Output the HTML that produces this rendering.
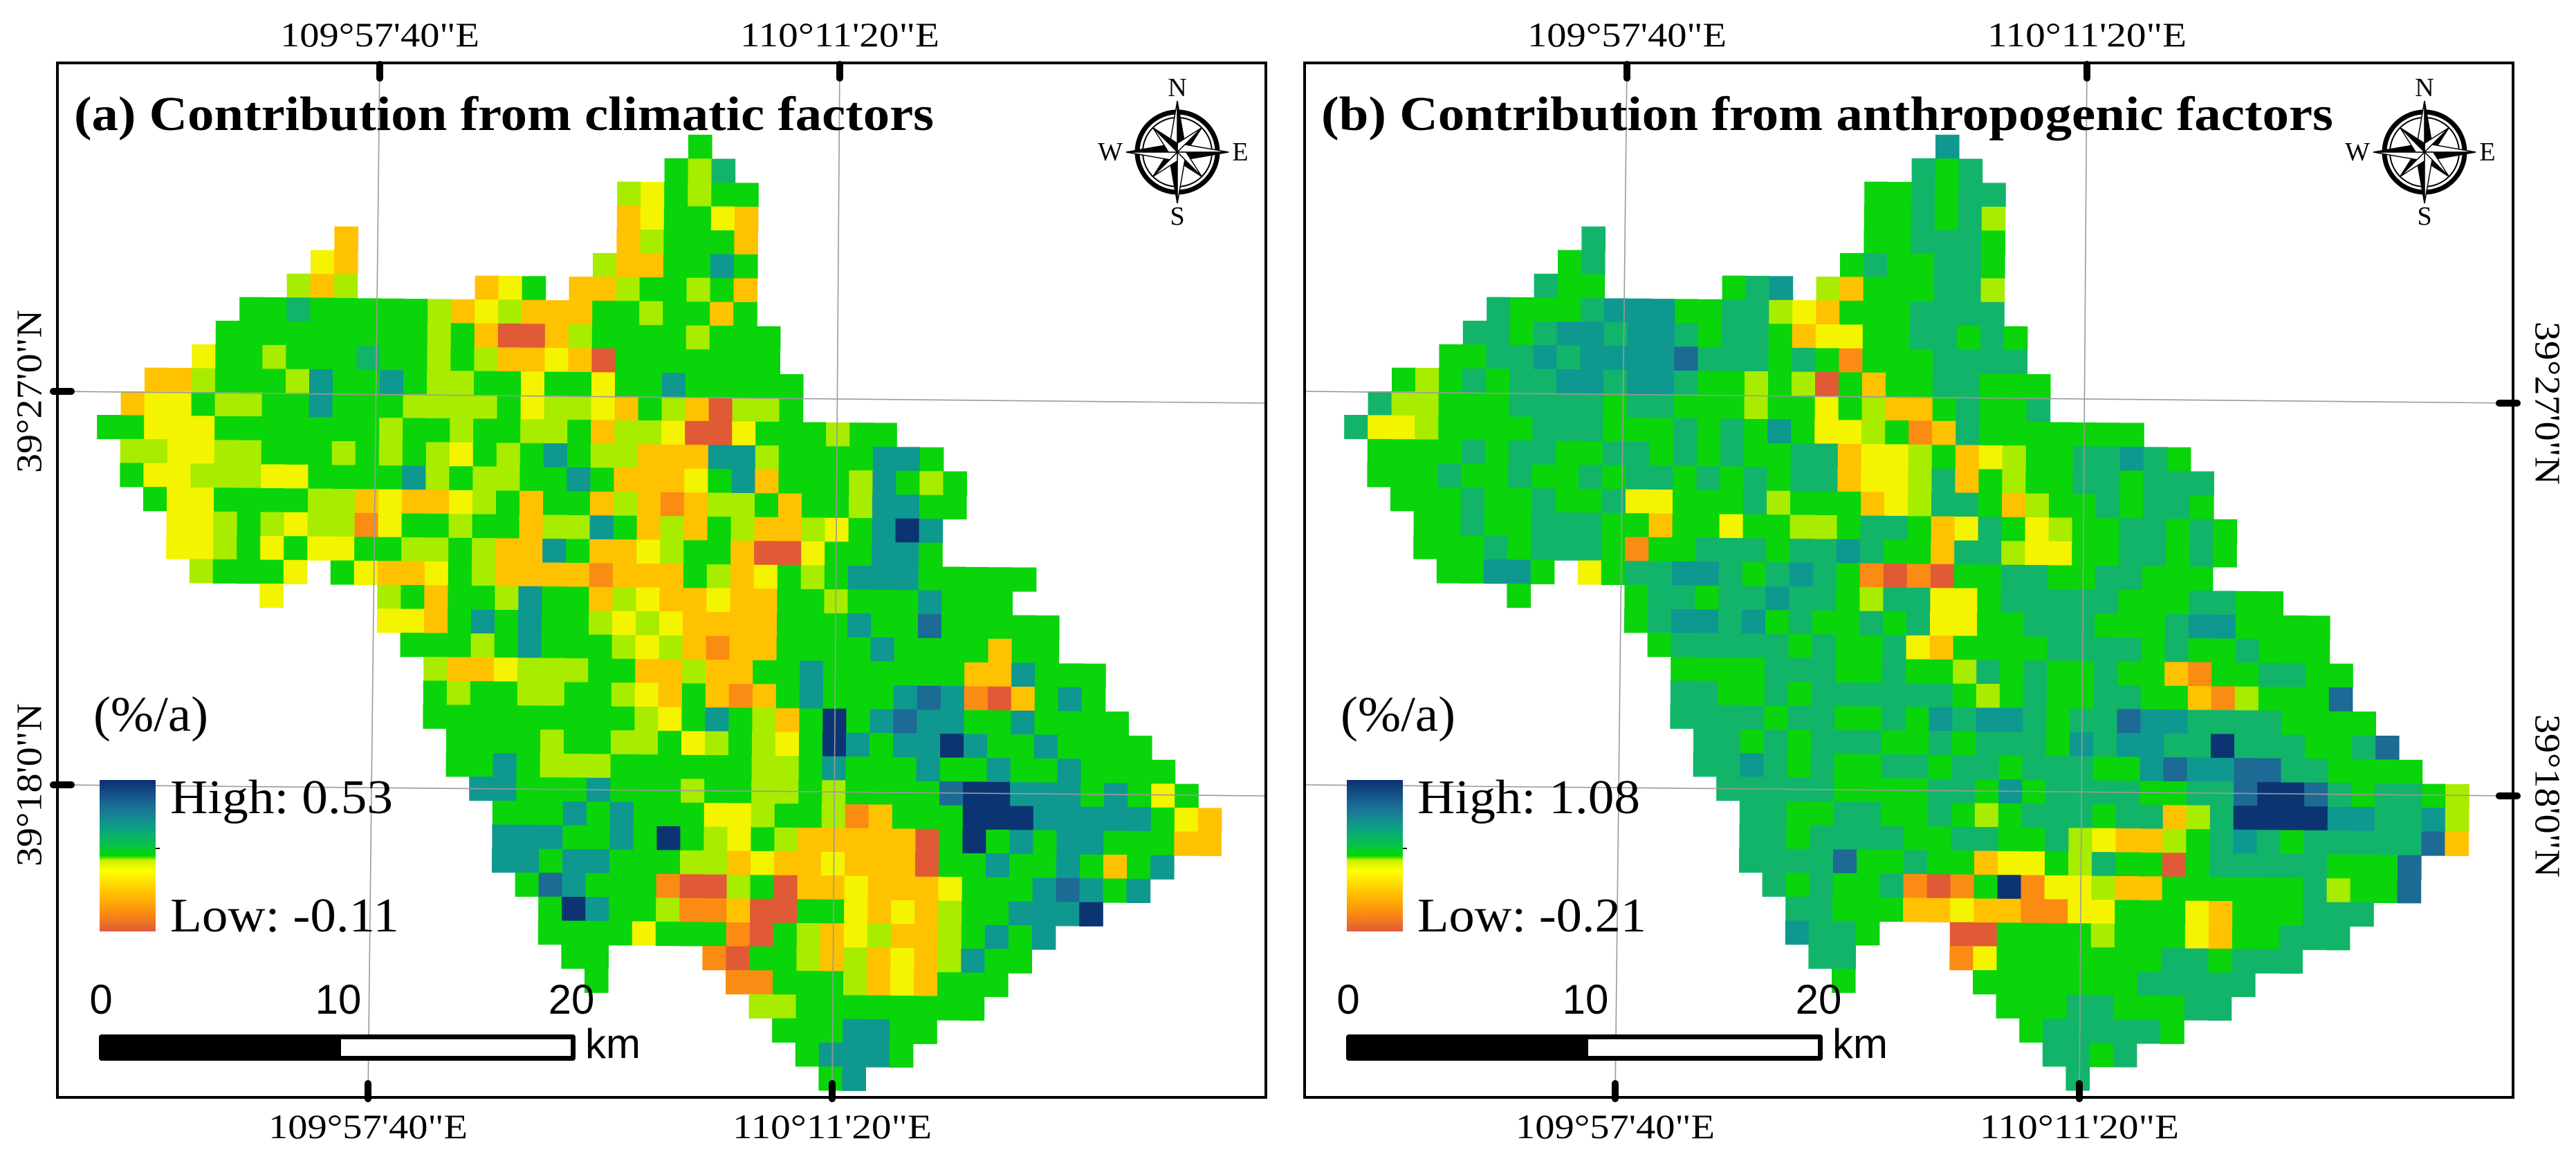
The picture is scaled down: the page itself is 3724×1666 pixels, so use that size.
<!DOCTYPE html>
<html><head><meta charset="utf-8"><style>
html,body{margin:0;padding:0;background:#fff;}
svg{display:block;}
text{font-family:"Liberation Serif",serif;fill:#000;}
.sans{font-family:"Liberation Sans",sans-serif;}
</style></head><body>
<svg id="fig" width="3724" height="1666" viewBox="0 0 3724 1666" xmlns="http://www.w3.org/2000/svg">
<defs>
<linearGradient id="cbar" x1="0" y1="0" x2="0" y2="1">
<stop offset="0" stop-color="#0c2f72"/>
<stop offset="0.18" stop-color="#1b6f97"/>
<stop offset="0.3" stop-color="#0f9a8c"/>
<stop offset="0.42" stop-color="#07c052"/>
<stop offset="0.5" stop-color="#00d800"/>
<stop offset="0.53" stop-color="#c8f000"/>
<stop offset="0.6" stop-color="#ffff00"/>
<stop offset="0.75" stop-color="#ffc000"/>
<stop offset="0.88" stop-color="#fb8c10"/>
<stop offset="1" stop-color="#e05a3a"/>
</linearGradient>
</defs>
<g id="panelA"></g>
<g id="panelB"></g>
</svg>
<script>
const NS="http://www.w3.org/2000/svg";
const PALETTE={D:"#0c3473",B:"#1d6a95",T:"#0f9890",M:"#12b46a",G:"#0ad40a",L:"#a8ec00",Y:"#f4f400",A:"#ffc200",O:"#fa8c14",R:"#e05a36"};
const ROWS_A=[
[[25,"G"]],[[24,"GLM"]],[[22,"LYGLGG"]],[[22,"AYGGYA"]],[[10,"A"],[22,"ALGGGA"]],
[[9,"YA"],[21,"LAAGGTG"]],[[8,"LAL"],[16,"AYG"],[20,"AALGGLGA"]],
[[6,"GGMGGGGGLAYLAAAGGLGGAG"]],[[5,"GGGGGGGGGLGARRALGGGGLGGG"]],
[[4,"YGGLGGGMGGLGLAAYARGGGGGGG"]],[[2,"AALGGGLTGGTGLLGGYGGYGGTGGGGG"]],
[[1,"AYYGLLGGTGGGLLLLGYLLYAGLARLLG"]],[[0,"GGYYYGGGGGGGLGGLGGLLGALLYRRYGGGLGG"]],
[[1,"LLYYLLGGGLGLGLYGLGTGLLAAATTLGGGGTTG"]],[[1,"GYYLLLYYGGGGTLGLLGGTGAAAYGTAGGGLTGLG"]],
[[2,"GYYGGGGLLAYAAYLGAGGALAOALLGAGGLTTGG"]],[[3,"YYLGLYLLOYGGLGGALLTGALAGLAALYGTDT"]],
[[3,"YYLGYGYYGGLLGLAATGAAYLGGARRYGGTTG"]],[[4,"LGGGY.GYAAYGLAAAAOAAAGLAYGLGTTTGGGGG"]],
[[7,"Y"],[12,"LGAGGLTGGALYAAYAAGGLGGGTGGG"]],[[12,"YYAGTGTGGLYLYAAAAGGGTGGBGGGGG"]],
[[13,"GGGLGTGGGLYLAOAAGGGGTGGGGAGG"]],[[14,"LAAYLLLGGAALAAGGTGGGGGGAATGGG"]],
[[14,"GLGGLLGGLYAGAOAGTGGGTBTORAGTG"]],[[14,"GGGGGGGGGLYGTGLAGDGTBTTGGTGGGG"]],
[[15,"GGGGLGGLLGYLGLYGDTGTTDTGGTGGGG"]],[[15,"GGTGLLLGGGGGGLLGTGGGTGGTGGTGGGG"]],
[[16,"TTGGGTGGGLGGLLGLGGGGBDDTTTGTGYG"]],[[17,"GGGTGTGGGYYLGGLOAGGGDDDTTTTTGYA"]],
[[17,"TTTGGTGDGLYGLAAAAARGDGTGTTGGGAA"]],[[17,"TTGTTGGGLLAYAAYAAARGGTGGTGAGT"]],
[[18,"GBTGGGORRLGRAAYAAAYGGGTBTGT"]],[[19,"GDTGGLOOARRGGYAYALGGTTTD"]],
[[19,"GGGGYGGGORGLAYLAALGTGT"]],[[20,"GG....ORGGLALAYALTGG"]],
[[21,"G"],[27,"OOGGGLAYAGGG"]],[[28,"LLGGGGGGGG"]],[[29,"GGGTTGG"]],[[30,"GTTTG"]],[[31,"GT"]]
];
const ROWS_B=[
[[25,"T"]],[[24,"MGM"]],[[22,"GGMGMM"]],[[22,"GGMGML"]],[[10,"M"],[22,"GGMMMG"]],
[[9,"GM"],[21,"GMGGMMG"]],[[8,"MGG"],[16,"GMT"],[20,"LAGGGMML"]],
[[6,"MGGGMTTTGGMMLYAGGGMMMM"]],[[5,"MMGMTTMTTMGMMGAYYGGMMGMG"]],
[[4,"GGMMTMTTTTBMMMGMGOGGGMMMM"]],[[2,"GLGMGMMTTMTTMGGLGLRGAGGMMGGG"]],
[[1,"MLLGGGMMMMGMMGGGLGGYGLAAGMGGM"]],[[0,"MYYLGGGGMMMGGGMGMGTGYYLGOAMGGGGGGG"]],
[[1,"GGGGMGMMGGMMGMGMGGMMAYYLGAYLGGMMTMG"]],[[1,"GGGMGGMGGMGMMGMGMGMMAYYLMAGLGGMMGMMM"]],
[[2,"GGGMGGMGGMYYGGGMLGGGAYLMMGALGGMGMMG"]],[[3,"GGMGGMMMGGAGGYGGLLGMMGAYMGYLGGMMGMG"]],
[[3,"GGGMGMMMGOGGMMMGMMTMGGAMMLYYGGMMGMG"]],[[4,"GGTTG.YGMMTTMGMTMGORORGGMMGGMMGGG"]],
[[7,"G"],[12,"GMMGMMTMMGLMMYYGMMMMMGGGMMGG"]],[[12,"GMTTMTGMGGMGMYYGGMMMGGGMTTGGGG"]],
[[13,"GMMMMMGMGGMYAGGGGMMMMGMGGMGGG"]],[[14,"GGGGMMMGGMGGLMGMGGMGGAOGGMMGG"]],
[[14,"MMGGMGMMMMMMGLGMGGMMGGAOLGGGB"]],[[14,"MMMMGMMGGMGTMTTMGMMBTTMMMMGGGG"]],
[[15,"MMGMGMMMGGMGMMMGTMTTMMDMMMGGMB"]],[[15,"MMTMGMGGMMGMMGMMMGGTBTTBBMMGGGG"]],
[[16,"MMMMMGGGGMMGTGMMMMGGMMBDDBMGMMGL"]],[[17,"MMGGMMGGMGLGMMMGMMALMDDDDTTMMTL"]],
[[17,"MMGMMMMGGMMGGMLYAALGMTMGMMMMMBA"]],[[17,"MMMMBGGMGGAYYGLMGGRGMMMMMGGGB"]],
[[18,"MGMGGMOROGDOYYLAAGGGGGGMLGGB"]],[[19,"MMGGGAAYAAOOYYGGGYAGGGMMM"]],
[[19,"TMMG...RRGGGGLGGGYAGGMMM"]],[[20,"MM....OYGGGGGGGMMGMMM"]],
[[21,"G"],[27,"GGGGGGGMMMMM"]],[[28,"GGGMMGGGMM"]],[[29,"GMMMMMG"]],[[30,"MMGM"]],[[31,"M"]]
];
const TITLES=["(a) Contribution from climatic factors","(b) Contribution from anthropogenic factors"];
const HIGHS=["High: 0.53","High: 1.08"];
const LOWS=["Low: -0.11","Low: -0.21"];
const LON_LABELS=["109°57'40\"E","110°11'20\"E"];
const LAT_LABELS=["39°27'0\"N","39°18'0\"N"];
const SCALE_LABELS=["0","10","20"];

function el(tag,attrs,parent,txt){const e=document.createElementNS(NS,tag);for(const k in attrs)e.setAttribute(k,attrs[k]);if(txt!==undefined)e.textContent=txt;parent.appendChild(e);return e;}

function drawPanel(g,idx,dx,rows){
  const F={x0:83+dx,x1:1830+dx,y0:91,y1:1587};
  const gx=145+dx,gy=186,cw=34.0,ch=34.5;
  const rg=el("g",{},g);
  
  
  rows.forEach((segs,r)=>{
    segs.forEach(seg=>{
      const s=seg[0],str=seg[1];
      for(let i=0;i<str.length;i++){
        const c=PALETTE[str[i]]; if(!c)continue;
        const col=s+i;
        const x=gx+col*cw-r*0.4, y=gy+r*ch+col*0.35;
        const rc=el("rect",{x:x.toFixed(1),y:y.toFixed(1),width:cw+0.6,height:ch+0.6,fill:c},rg);
        
        
      }
    });
  });
  const gr=el("g",{stroke:"#9a9a9a","stroke-width":1.6,fill:"none"},g);
  
  
  const vt=[[466,449],[1131,1120]];
  vt.forEach(v=>el("line",{x1:F.x0+v[0],y1:F.y0,x2:F.x0+v[1],y2:F.y1},gr));
  const hz=[[475,492],[1044,1060]];
  hz.forEach(h=>el("line",{x1:F.x0,y1:h[0]+91,x2:F.x1,y2:h[1]+91},gr));
  const fr=el("rect",{x:F.x0,y:F.y0,width:F.x1-F.x0,height:F.y1-F.y0,fill:"none",stroke:"#000","stroke-width":4},g);
  
  
  const tk=el("g",{stroke:"#000","stroke-width":10,"stroke-linecap":"round"},g);
  
  
  vt.forEach((v,i)=>{
    el("line",{x1:F.x0+v[0],y1:F.y0+2,x2:F.x0+v[0],y2:F.y0+22},tk);
    el("line",{x1:F.x0+v[1],y1:F.y1-20,x2:F.x0+v[1],y2:F.y1+2},tk);
    const t1=el("text",{x:F.x0+v[0],y:67,"font-size":50,"text-anchor":"middle",textLength:288,lengthAdjust:"spacingAndGlyphs"},g,LON_LABELS[i]);
    
    
    const t2=el("text",{x:F.x0+v[1],y:1646,"font-size":50,"text-anchor":"middle",textLength:288,lengthAdjust:"spacingAndGlyphs"},g,LON_LABELS[i]);
    
    
  });
  hz.forEach((h,i)=>{
    let x,y,rot;
    if(idx===0){x=F.x0;y=h[0]+91;el("line",{x1:x-6,y1:y,x2:x+20,y2:y},tk);x=43;rot=-90;}
    else{x=F.x1;y=h[1]+91;el("line",{x1:x-20,y1:y,x2:x+6,y2:y},tk);x=3682;rot=90;}
    const t=el("text",{x:x,y:y,"font-size":52,"text-anchor":"middle","dominant-baseline":"central",textLength:236,lengthAdjust:"spacingAndGlyphs",transform:`rotate(${rot} ${x} ${y})`},g,LAT_LABELS[i]);
    
    
  });
  const tt=el("text",{x:F.x0+24,y:188,"font-size":70,"font-weight":"bold",textLength:idx===0?1243:1463,lengthAdjust:"spacingAndGlyphs"},g,TITLES[idx]);
  
  
  const cx=F.x0+1619,cy=220;
  const cg=el("g",{transform:`translate(${cx} ${cy})`},g);
  
  
  el("circle",{r:58,fill:"none",stroke:"#000","stroke-width":7},cg);
  el("circle",{r:50,fill:"none",stroke:"#000","stroke-width":2},cg);
  for(let k=0;k<8;k++){
    const L=(k%2===0)?74:50,w=(k%2===0)?11:9,a=k*45;
    const pg=el("g",{transform:`rotate(${a})`},cg);
    el("polygon",{points:`0,0 0,${-L} ${w},${-w}`,fill:"#000",stroke:"#000","stroke-width":1.5},pg);
    el("polygon",{points:`0,0 0,${-L} ${-w},${-w}`,fill:"#fff",stroke:"#000","stroke-width":1.5},pg);
  }
  [["N",0,-93],["S",0,93],["W",-97,0],["E",91,0]].forEach(d=>{
    const t=el("text",{x:d[1],y:d[2],"font-size":38,"text-anchor":"middle","dominant-baseline":"central"},cg,d[0]);
    
    
  });
  const lg=el("g",{},g);
  
  
  const u=el("text",{x:F.x0+52,y:1057,"font-size":72,textLength:166,lengthAdjust:"spacingAndGlyphs"},lg,"(%/a)");
  
  
  const cb=el("rect",{x:F.x0+61,y:1128,width:81,height:219,fill:"url(#cbar)"},lg);
  
  
  el("line",{x1:F.x0+142,y1:1227,x2:F.x0+148,y2:1227,stroke:"#000","stroke-width":2},lg);
  const hi=el("text",{x:F.x0+163,y:1176,"font-size":70,textLength:322,lengthAdjust:"spacingAndGlyphs"},lg,HIGHS[idx]);
  
  
  const lo=el("text",{x:F.x0+163,y:1347,"font-size":70,textLength:331,lengthAdjust:"spacingAndGlyphs"},lg,LOWS[idx]);
  
  
  const sb=el("g",{},g);
  
  
  el("rect",{x:F.x0+60,y:1496,width:689,height:38,rx:4,fill:"#000"},sb);
  el("rect",{x:F.x0+410,y:1503,width:332,height:24,fill:"#fff"},sb);
  const sx=[63,406,743];
  SCALE_LABELS.forEach((s,i)=>{
    const t=el("text",{x:F.x0+sx[i],y:1466,"font-size":60,"text-anchor":"middle",class:"sans"},sb,s);
    
    
  });
  const km=el("text",{x:F.x0+763,y:1530,"font-size":60,class:"sans"},sb,"km");
  
  
}
drawPanel(document.getElementById("panelA"),0,0,ROWS_A);
drawPanel(document.getElementById("panelB"),1,1803,ROWS_B);
</script>
</body></html>
